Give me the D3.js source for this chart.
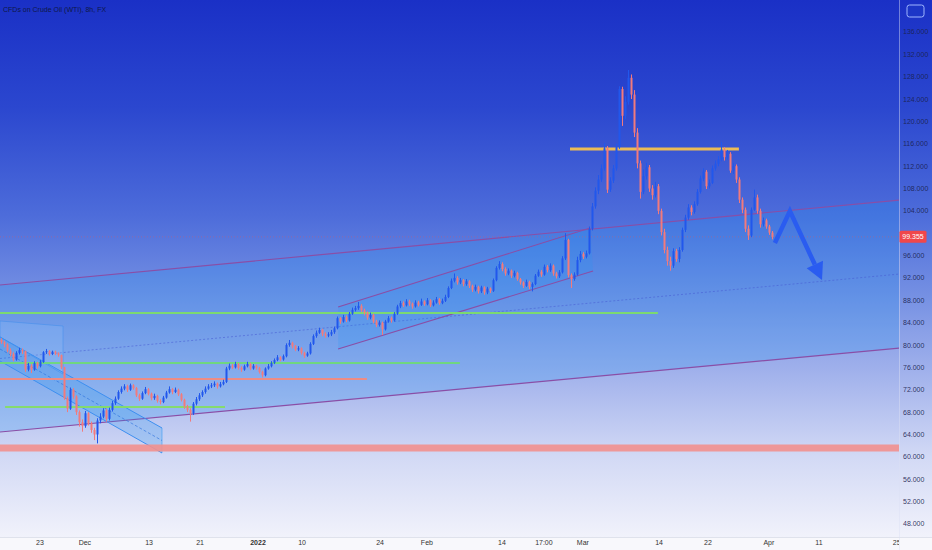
<!DOCTYPE html>
<html>
<head>
<meta charset="utf-8">
<script src="https://cdn.jsdelivr.net/npm/d3@7"></script>
<style>
  body { margin: 0; background: #fff; }
  svg { display: block; font-family: "Liberation Sans", "DejaVu Sans", sans-serif; }
</style>
</head>
<body>
<div id="chart"></div>
<script>
// ---- data ----
const title = "CFDs on Crude Oil (WTI), 8h, FX";
const firstOpen = 80.9;
const closes = [
  80.5,80.1,79.0,78.4,77.4,78.6,79.1,78.9,75.6,76.3,
  75.6,76.8,76.2,77.0,78.7,78.9,78.4,78.8,78.5,78.2,
  76.0,70.5,68.6,72.0,70.8,68.0,66.2,65.5,67.8,66.0,
  64.8,64.0,66.5,67.2,68.3,66.8,68.4,69.6,70.4,71.6,
  72.2,72.6,72.0,72.8,72.3,71.0,70.4,71.4,72.1,71.3,
  70.5,70.9,70.0,69.8,70.6,71.5,72.1,71.6,72.0,71.2,
  70.2,69.0,68.4,67.8,69.5,70.3,71.0,71.6,72.2,72.6,
  72.8,73.1,72.6,73.0,73.4,75.8,76.3,76.0,76.6,75.9,
  75.6,76.2,76.6,75.8,76.3,75.9,75.2,74.6,75.8,76.2,
  76.8,77.3,77.8,77.4,78.0,80.0,80.4,79.8,79.2,79.4,
  78.6,78.1,78.5,80.2,81.6,82.2,82.7,82.0,81.7,81.9,
  82.3,83.0,84.8,84.2,85.0,84.4,85.6,86.3,86.6,87.0,
  86.2,85.8,84.9,85.4,84.2,83.6,84.0,82.8,84.2,84.8,
  84.4,85.6,86.9,87.5,87.1,87.8,87.4,86.9,87.6,87.2,
  87.8,87.3,88.0,87.1,87.6,88.2,87.5,87.9,88.6,90.2,
  91.5,92.0,91.2,91.6,90.9,91.4,90.6,89.9,90.4,89.6,
  90.3,89.4,90.1,89.7,91.6,93.8,94.5,93.6,92.8,93.3,
  92.4,92.9,91.8,91.2,90.6,91.3,90.4,90.9,92.4,93.1,
  92.6,94.0,93.4,94.2,92.8,92.3,93.0,95.5,98.8,92.5,
  91.8,92.6,95.2,96.3,95.8,96.4,100.8,104.8,107.6,109.6,
  111.6,115.2,107.8,109.4,111.6,115.4,125.8,121.0,123.5,127.8,
  124.8,118.0,112.5,107.4,110.2,111.8,108.0,106.8,108.4,104.0,
  100.2,97.0,95.0,94.2,96.8,95.4,97.0,100.6,102.8,104.6,
  103.8,105.2,107.4,109.8,111.0,108.4,109.0,111.6,112.4,113.2,
  115.0,113.6,114.2,111.2,112.0,109.6,106.0,104.2,100.8,99.6,
  104.2,106.4,104.0,101.6,102.3,101.2,100.1,99.355
];
const highs = [
  81.2,80.8,80.3,79.4,78.7,78.9,79.5,79.4,79.0,76.8,
  76.6,77.1,77.0,77.3,78.9,79.3,79.1,79.0,79.0,78.7,
  78.3,76.1,70.8,72.4,72.3,71.0,68.3,66.7,68.2,68.0,
  66.3,65.2,66.9,67.8,68.7,68.6,68.8,70.0,70.8,71.9,
  72.6,73.0,72.9,73.1,73.0,72.5,71.3,71.7,72.5,72.3,
  71.5,71.3,71.1,70.3,70.9,71.8,72.6,72.3,72.4,72.2,
  71.4,70.4,69.3,68.7,69.8,70.7,71.4,71.9,72.6,73.0,
  73.2,73.5,73.3,73.4,73.8,76.1,76.7,76.6,77.0,76.8,
  76.2,76.5,77.0,76.8,76.6,76.5,76.1,75.4,76.0,76.6,
  77.1,77.6,78.2,78.0,78.3,80.3,80.9,80.6,80.0,79.8,
  79.6,78.8,78.8,80.5,81.9,82.6,83.1,82.9,82.3,82.3,
  82.7,83.3,85.1,85.0,85.4,85.3,85.9,86.7,87.0,87.7,
  87.3,86.5,86.0,85.8,85.6,84.5,84.4,84.2,84.5,85.2,
  85.1,85.9,87.2,87.9,87.8,88.2,88.1,87.6,88.0,87.9,
  88.3,88.0,88.4,88.2,88.0,88.6,88.4,88.3,89.0,90.5,
  91.9,92.8,92.3,92.0,91.8,91.8,91.6,90.8,90.8,90.6,
  90.6,90.5,90.4,90.3,91.9,94.1,95.0,94.8,93.9,93.7,
  93.5,93.3,93.1,92.0,91.4,91.7,91.5,91.2,92.7,93.5,
  93.4,94.4,94.3,94.6,94.4,93.1,93.4,95.9,100.0,99.0,
  92.8,93.0,95.8,96.8,96.6,96.9,101.2,105.4,108.2,110.4,
  112.3,116.1,115.6,110.0,112.2,116.0,126.3,126.2,124.5,129.2,
  128.4,125.6,118.8,113.0,111.4,112.6,112.2,108.6,109.2,108.8,
  104.4,100.8,97.6,95.8,97.3,97.2,97.5,101.0,103.3,105.2,
  105.0,105.7,107.9,110.3,111.6,111.3,109.6,112.1,113.0,113.8,
  116.3,115.4,114.9,114.5,112.6,112.3,110.0,106.4,104.6,101.4,
  104.6,107.8,106.9,104.4,102.8,102.6,101.5,100.4
];
const lows = [
  80.2,79.6,78.7,78.0,77.1,77.2,78.3,78.4,75.2,75.3,
  75.0,75.4,75.8,76.0,76.8,78.4,78.1,78.2,78.2,77.9,
  75.7,70.2,68.0,68.4,70.4,67.5,65.4,64.5,65.2,65.6,
  64.3,63.0,62.4,66.0,66.9,66.3,66.5,68.1,69.3,70.2,
  71.3,71.9,71.6,71.8,72.0,70.7,70.0,70.2,71.2,71.0,
  70.1,70.2,69.7,69.4,69.6,70.4,71.3,71.2,71.4,70.9,
  69.9,68.6,68.0,66.3,67.5,69.2,70.0,70.7,71.3,72.0,
  72.3,72.5,72.2,72.4,72.8,73.2,75.5,75.7,75.8,75.6,
  75.2,75.4,76.0,75.5,75.6,75.6,74.9,74.2,74.4,75.6,
  76.0,76.6,77.1,77.1,77.2,77.8,79.7,79.4,78.9,78.9,
  78.3,77.7,77.9,78.3,80.0,81.3,82.0,81.6,81.3,81.4,
  81.6,82.0,82.8,83.8,84.0,84.1,84.2,85.4,86.0,86.3,
  85.9,85.3,84.5,84.6,83.9,83.2,83.3,81.8,82.6,84.0,
  84.0,84.2,85.4,86.6,86.8,86.9,87.0,86.5,86.7,86.9,
  87.0,87.0,87.1,86.8,86.9,87.4,87.2,87.3,87.7,88.4,
  90.0,91.2,90.8,90.9,90.5,90.6,90.2,89.5,89.6,89.2,
  89.3,89.0,89.1,89.3,89.5,91.4,93.5,93.2,92.4,92.5,
  92.0,92.1,91.5,90.8,90.2,90.4,90.0,89.6,90.7,92.2,
  92.2,92.4,93.0,93.1,92.4,91.9,92.0,92.8,95.2,92.1,
  90.2,91.5,92.4,94.8,95.4,95.5,96.2,100.5,104.4,107.0,
  109.2,111.2,107.2,107.4,109.0,111.2,115.1,119.2,120.4,123.0,
  124.0,117.2,111.6,106.2,107.0,109.6,107.4,106.0,106.4,103.4,
  99.6,96.4,94.2,93.3,93.8,94.9,94.8,96.7,100.2,102.4,
  103.2,103.5,104.9,107.1,109.3,107.9,108.0,108.8,111.2,112.0,
  112.9,113.0,113.2,110.8,110.6,109.0,105.4,103.6,100.2,98.8,
  99.3,104.0,103.5,101.0,101.2,100.8,99.7,98.9
];

const priceTicks = [48, 52, 56, 60, 64, 68, 72, 76, 80, 84, 88, 92, 96, 104, 108, 112, 116, 120, 124, 128, 132, 136];
const timeLabels = ["23", "Dec", "13", "21", "2022", "10", "24", "Feb", "14", "17:00", "Mar", "14", "22", "Apr", "11", "25"];
const timeBars   = [13.3, 28.3, 49.7, 66.7, 86, 100.7, 126.7, 142.3, 167.3, 181.3, 194.3, 219.7, 236, 256.3, 273, 298.9];
const lastPrice = 99.355;

// drawings: [bar, price] pairs
const bigChannelTop = [[0, 90.74], [300, 105.95]];
const bigChannelBottom = [[0, 64.44], [300, 79.47]];
const riseChannelTop = [[112.7, 86.8], [196.7, 100.94]];
const riseChannelBottom = [[112.7, 79.3], [197.7, 93.24]];
const fallChannelTop = [[0, 81.44], [54, 65.16]];
const fallChannelBottom = [[0, 77.14], [54, 60.69]];
const fallBox = [[0, 84.3], [21, 83.4], [21, 74.8], [0, 81.44]];
const levels = [
  { price: 85.73, from: 0, to: 219.3, color: "#7ddc6a", w: 2 },
  { price: 76.79, from: 0, to: 153.3, color: "#6fd87a", w: 2 },
  { price: 73.92, from: 0, to: 122.3, color: "#f38a7e", w: 2 },
  { price: 68.92, from: 1.7, to: 75, color: "#84dc66", w: 2 },
  { price: 61.58, from: 0, to: 300, color: "#f2908e", w: 7 },
  { price: 115.07, from: 190, to: 246.3, color: "#f7c24e", w: 3 }
];
const arrowPts = [[258.3, 98.25], [263.3, 103.98], [274, 91.64]];

// ---- layout ----
const W = 932, H = 550;
const plotW = 899, plotH = 537;

const x = d3.scaleLinear().domain([0, 300]).range([0, 900]);
const y = d3.scaleLinear().domain([45.66, 141.72]).range([plotH, 0]);

const candles = closes.map((c, i) => ({
  i: i,
  o: i === 0 ? firstOpen : closes[i - 1],
  h: highs[i],
  l: lows[i],
  c: c
}));

const svg = d3.select("#chart").append("svg")
  .attr("width", W).attr("height", H);

const defs = svg.append("defs");
const grad = defs.append("linearGradient")
  .attr("id", "bg").attr("x1", 0).attr("y1", 0).attr("x2", 0).attr("y2", 1);
[[0, "#1a30c6"], [0.2, "#2b47cf"], [0.4, "#4d6cda"], [0.55, "#7590e3"],
 [0.7, "#a3b3ec"], [0.85, "#d2d9f5"], [1, "#f1f2fb"]]
  .forEach(s => grad.append("stop").attr("offset", s[0]).attr("stop-color", s[1]));

defs.append("clipPath").attr("id", "plotclip")
  .append("rect").attr("width", plotW).attr("height", plotH);

svg.append("rect").attr("width", W).attr("height", plotH).attr("fill", "url(#bg)");
svg.append("rect").attr("y", plotH).attr("width", W).attr("height", H - plotH).attr("fill", "#f8f8fc");
svg.append("line").attr("x1", 0).attr("x2", W).attr("y1", plotH + 0.5).attr("y2", plotH + 0.5)
  .attr("stroke", "#dfe2ec");
svg.append("line").attr("x1", plotW + 0.5).attr("x2", plotW + 0.5).attr("y1", 0).attr("y2", H)
  .attr("stroke", "rgba(220,225,245,0.45)");

const plot = svg.append("g").attr("clip-path", "url(#plotclip)");
const pt = d => [x(d[0]), y(d[1])];
const line = d3.line().x(d => x(d[0])).y(d => y(d[1]));

// big ascending channel
plot.append("path")
  .attr("d", line([bigChannelTop[0], bigChannelTop[1], bigChannelBottom[1], bigChannelBottom[0]]) + "Z")
  .attr("fill", "rgba(33,150,243,0.22)");
plot.append("path").attr("d", line([[0, (bigChannelTop[0][1] + bigChannelBottom[0][1]) / 2],
                                    [300, (bigChannelTop[1][1] + bigChannelBottom[1][1]) / 2]]))
  .attr("stroke", "rgba(70,90,210,0.55)").attr("stroke-dasharray", "2,2").attr("fill", "none");
[bigChannelTop, bigChannelBottom].forEach(l =>
  plot.append("path").attr("d", line(l)).attr("stroke", "#8a4ea6").attr("stroke-width", 1.2).attr("fill", "none"));

// falling channel + box on the left
plot.append("path").attr("d", line(fallBox) + "Z")
  .attr("fill", "rgba(150,200,255,0.22)").attr("stroke", "rgba(60,140,235,0.6)").attr("stroke-width", 0.8);
plot.append("path")
  .attr("d", line([fallChannelTop[0], fallChannelTop[1], fallChannelBottom[1], fallChannelBottom[0]]) + "Z")
  .attr("fill", "rgba(33,150,243,0.22)");
plot.append("path").attr("d", line([fallChannelTop[1], fallChannelBottom[1]]))
  .attr("stroke", "rgba(33,150,243,0.5)").attr("fill", "none");
plot.append("path").attr("d", line([[0, (fallChannelTop[0][1] + fallChannelBottom[0][1]) / 2],
                                    [54, (fallChannelTop[1][1] + fallChannelBottom[1][1]) / 2]]))
  .attr("stroke", "rgba(40,110,220,0.6)").attr("stroke-dasharray", "3,2").attr("fill", "none");
[fallChannelTop, fallChannelBottom].forEach(l =>
  plot.append("path").attr("d", line(l)).attr("stroke", "#3d8ff0").attr("stroke-width", 1).attr("fill", "none"));

// rising channel in the middle
plot.append("path")
  .attr("d", line([riseChannelTop[0], riseChannelTop[1], riseChannelBottom[1], riseChannelBottom[0]]) + "Z")
  .attr("fill", "rgba(33,150,243,0.2)");
[riseChannelTop, riseChannelBottom].forEach(l =>
  plot.append("path").attr("d", line(l)).attr("stroke", "#8a4ea6").attr("stroke-width", 1.1).attr("fill", "none"));

// horizontal levels
plot.selectAll(".lvl").data(levels).enter().append("line")
  .attr("x1", d => x(d.from)).attr("x2", d => x(d.to))
  .attr("y1", d => y(d.price)).attr("y2", d => y(d.price))
  .attr("stroke", d => d.color).attr("stroke-width", d => d.w)
  .attr("stroke-opacity", d => d.w > 5 ? 0.9 : 0.95);

// last price line
plot.append("line").attr("x1", 0).attr("x2", plotW)
  .attr("y1", y(lastPrice)).attr("y2", y(lastPrice))
  .attr("stroke", "rgba(239,83,80,0.35)").attr("stroke-dasharray", "1,2");

// candles
const upCol = "#2157ec", downCol = "#f27a7c";
const cg = plot.selectAll(".c").data(candles).enter().append("g");
cg.append("line")
  .attr("x1", d => x(d.i + 0.5)).attr("x2", d => x(d.i + 0.5))
  .attr("y1", d => y(d.h)).attr("y2", d => y(d.l))
  .attr("stroke", d => d.c >= d.o ? upCol : downCol).attr("stroke-width", 1);
cg.append("rect")
  .attr("x", d => x(d.i + 0.5) - 1)
  .attr("width", 2)
  .attr("y", d => y(Math.max(d.o, d.c)))
  .attr("height", d => Math.max(1, Math.abs(y(d.o) - y(d.c))))
  .attr("fill", d => d.c >= d.o ? upCol : downCol);

// projection arrow
const ap = arrowPts.map(pt);
const [px, py] = ap[2];
const ang = Math.atan2(py - ap[1][1], px - ap[1][0]);
const headL = 17, headW = 9;
const bx = px - headL * Math.cos(ang), by = py - headL * Math.sin(ang);
plot.append("path")
  .attr("d", d3.line()([ap[0], ap[1], [bx, by]]))
  .attr("stroke", "#2a5cf0").attr("stroke-width", 4.5).attr("fill", "none")
  .attr("stroke-linejoin", "miter");
plot.append("path")
  .attr("d", d3.line()([[px, py],
    [bx + headW * Math.sin(ang), by - headW * Math.cos(ang)],
    [bx - headW * Math.sin(ang), by + headW * Math.cos(ang)]]) + "Z")
  .attr("fill", "#2a5cf0");

// price axis
const yAxis = svg.append("g");
yAxis.selectAll("text").data(priceTicks).enter().append("text")
  .attr("x", 903).attr("y", d => y(d) + 2.5)
  .attr("font-size", 7).attr("fill", "#1b2250").attr("fill-opacity", 0.9)
  .text(d => d.toFixed(3));

svg.append("rect").attr("x", plotW + 0.5).attr("y", y(lastPrice) - 6)
  .attr("width", 27).attr("height", 12).attr("rx", 1.5).attr("fill", "#f0474b");
svg.append("text").attr("x", plotW + 14).attr("y", y(lastPrice) + 2.5)
  .attr("text-anchor", "middle").attr("font-size", 7).attr("fill", "#fff")
  .text(lastPrice.toFixed(3));

// time axis
const tAxis = svg.append("g").attr("clip-path", "url(#tclip)");
defs.append("clipPath").attr("id", "tclip")
  .append("rect").attr("y", plotH).attr("width", plotW).attr("height", H - plotH);
tAxis.selectAll("text").data(timeLabels).enter().append("text")
  .attr("x", (d, i) => x(timeBars[i])).attr("y", 545)
  .attr("text-anchor", "middle").attr("font-size", 7).attr("fill", "#333")
  .attr("font-weight", d => d === "2022" ? "bold" : null)
  .text(d => d);

// title + corner icon
svg.append("text").attr("x", 3).attr("y", 12)
  .attr("font-size", 7).attr("fill", "#0e1848").text(title);
svg.append("rect").attr("x", 907).attr("y", 5).attr("width", 17).attr("height", 12).attr("rx", 2.5)
  .attr("fill", "rgba(30,60,200,0.4)").attr("stroke", "#9fb6ff").attr("stroke-width", 1);
</script>
</body>
</html>
